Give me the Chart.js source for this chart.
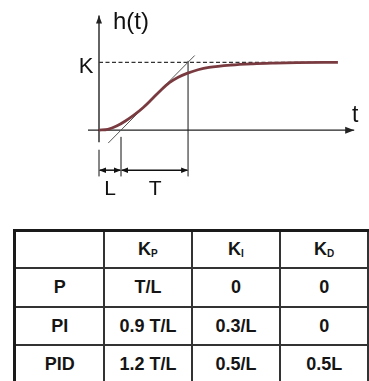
<!DOCTYPE html>
<html>
<head>
<meta charset="utf-8">
<script src="https://cdn.jsdelivr.net/npm/chart.js@4"></script>
<style>
  html, body { margin: 0; padding: 0; background: #fff; width: 369px; height: 381px; overflow: hidden; }
  #wrap { position: absolute; left: 0; top: 0; width: 369px; height: 210px; }
  #pidTable {
    position: absolute; left: 13px; top: 229px;
    border-collapse: separate; border-spacing: 0; table-layout: fixed;
    border-left: 3px solid #1a1a1a; border-top: 3px solid #1a1a1a;
    font: bold 18px "Liberation Sans", Arial, sans-serif; color: #151515;
  }
  #pidTable td {
    box-sizing: border-box; padding: 0; text-align: center; vertical-align: middle;
    border-right: 2px solid #333; border-bottom: 2px solid #333;
  }
  #pidTable sub { font-size: 10px; vertical-align: -2px; }
</style>
</head>
<body>
<div id="wrap"><canvas id="stepChart" width="369" height="210"></canvas></div>
<table id="pidTable"></table>
<script>
// step response h(t) (t in units of L, h in units of K)
const stepTime = [0, 0.4, 0.8, 1.2, 1.6, 2.0, 2.4, 2.8, 3.2, 3.6, 4.0, 4.5, 5.0, 6.0, 7.0, 8.0, 9.0, 10.86];
const stepResp = [0, 0.012, 0.06, 0.135, 0.225, 0.33, 0.455, 0.585, 0.7, 0.78, 0.837, 0.89, 0.925, 0.96, 0.978, 0.988, 0.995, 1.0];
const gainK = 1;
const timeL = 1;
const timeLT = 4.05;
const tangentTime = [0.42, 4.35];
const tangentResp = [-0.19, 1.1];

// Ziegler-Nichols table
const ctrlTypes = ['P', 'PI', 'PID'];
const gainHeads = [['K', 'P'], ['K', 'I'], ['K', 'D']];
const kpRules = ['T/L', '0.9 T/L', '1.2 T/L'];
const kiRules = ['0', '0.3/L', '0.5/L'];
const kdRules = ['0', '0', '0.5L'];

const pts = (xs, ys) => xs.map((v, i) => ({ x: v, y: ys[i] }));

const arrowPlugin = {
  id: 'arrows',
  afterDatasetsDraw(chart) {
    const ctx = chart.ctx;
    chart.data.datasets.forEach((ds, i) => {
      if (!ds.arrows) return;
      const p = chart.getDatasetMeta(i).data;
      const ends = [];
      if (ds.arrows.includes('end')) ends.push([p[p.length - 1], p[p.length - 2]]);
      if (ds.arrows.includes('start')) ends.push([p[0], p[1]]);
      ends.forEach(([tip, from]) => {
        const a = Math.atan2(tip.y - from.y, tip.x - from.x);
        const len = ds.arrowLen, w = ds.arrowHalf;
        const bx = tip.x - len * Math.cos(a), by = tip.y - len * Math.sin(a);
        ctx.save();
        ctx.fillStyle = ds.borderColor;
        ctx.beginPath();
        ctx.moveTo(tip.x, tip.y);
        ctx.lineTo(bx + w * Math.sin(a), by - w * Math.cos(a));
        ctx.lineTo(bx - w * Math.sin(a), by + w * Math.cos(a));
        ctx.closePath();
        ctx.fill();
        ctx.restore();
      });
    });
  }
};

const textPlugin = {
  id: 'texts',
  afterDraw(chart, args, opts) {
    const { ctx, scales: { x, y } } = chart;
    ctx.save();
    ctx.fillStyle = '#111';
    ctx.textBaseline = 'middle';
    ctx.textAlign = 'center';
    opts.items.forEach(it => {
      ctx.font = `${it.size}px "Liberation Sans", Arial, sans-serif`;
      ctx.fillText(it.text, x.getPixelForValue(it.x), y.getPixelForValue(it.y));
    });
    ctx.restore();
  }
};

const thin = { pointRadius: 0, fill: false, tension: 0 };

new Chart(document.getElementById('stepChart'), {
  type: 'line',
  data: {
    datasets: [
      { ...thin, data: pts(stepTime, stepResp), borderColor: '#7a3b40', borderWidth: 2.8, cubicInterpolationMode: 'monotone' },
      { ...thin, data: pts(tangentTime, tangentResp), borderColor: '#555', borderWidth: 1 },
      { ...thin, data: [{ x: 0, y: gainK }, { x: 10.9, y: gainK }], borderColor: '#333', borderWidth: 1.2, borderDash: [4, 2.5] },
      { ...thin, data: [{ x: -0.5, y: 0 }, { x: 11.6, y: 0 }], borderColor: '#222', borderWidth: 1.4, arrows: ['end'], arrowLen: 9, arrowHalf: 3.5 },
      { ...thin, data: [{ x: 0, y: -0.18 }, { x: 0, y: 1.69 }], borderColor: '#222', borderWidth: 1.4, arrows: ['end'], arrowLen: 8, arrowHalf: 3 },
      { ...thin, borderColor: '#777', borderWidth: 1, data: [
        { x: 0, y: -0.29 }, { x: 0, y: -0.68 }, { x: 0, y: null },
        { x: timeL, y: -0.1 }, { x: timeL, y: -0.68 }, { x: timeL, y: null },
        { x: timeLT, y: 1.02 }, { x: timeLT, y: -0.68 }
      ] },
      { ...thin, data: [{ x: 0, y: -0.59 }, { x: timeL, y: -0.59 }], borderColor: '#111', borderWidth: 1.5, arrows: ['start', 'end'], arrowLen: 7, arrowHalf: 2.8 },
      { ...thin, data: [{ x: timeL, y: -0.59 }, { x: timeLT, y: -0.59 }], borderColor: '#111', borderWidth: 1.5, arrows: ['start', 'end'], arrowLen: 7, arrowHalf: 2.8 }
    ]
  },
  options: {
    responsive: false,
    animation: false,
    events: [],
    layout: { padding: { left: 77, right: 6, top: 8, bottom: 12 } },
    scales: {
      x: { type: 'linear', min: -1, max: 12, display: false },
      y: { type: 'linear', min: -1, max: 1.8, display: false }
    },
    plugins: {
      legend: { display: false },
      tooltip: { enabled: false },
      texts: { items: [
        { text: 'h(t)', x: 1.45, y: 1.59, size: 24 },
        { text: 'K', x: -0.59, y: 0.93, size: 22 },
        { text: 't', x: 11.64, y: 0.22, size: 23 },
        { text: 'L', x: 0.5, y: -0.87, size: 21 },
        { text: 'T', x: 2.55, y: -0.87, size: 21 }
      ] }
    }
  },
  plugins: [arrowPlugin, textPlugin]
});

// table built from the arrays above
const colW = [92, 90, 91, 90];
const rowH = [37, 39, 38, 38];
const tbl = document.getElementById('pidTable');
const rows = [['', ...gainHeads.map(h => `${h[0]}<sub>${h[1]}</sub>`)]];
ctrlTypes.forEach((c, i) => rows.push([c, kpRules[i], kiRules[i], kdRules[i]]));
rows.forEach((r, ri) => {
  const tr = document.createElement('tr');
  r.forEach((cell, ci) => {
    const td = document.createElement('td');
    td.style.width = colW[ci] + 'px';
    td.style.height = rowH[ri] + 'px';
    td.innerHTML = cell;
    tr.appendChild(td);
  });
  tbl.appendChild(tr);
});
</script>
</body>
</html>
